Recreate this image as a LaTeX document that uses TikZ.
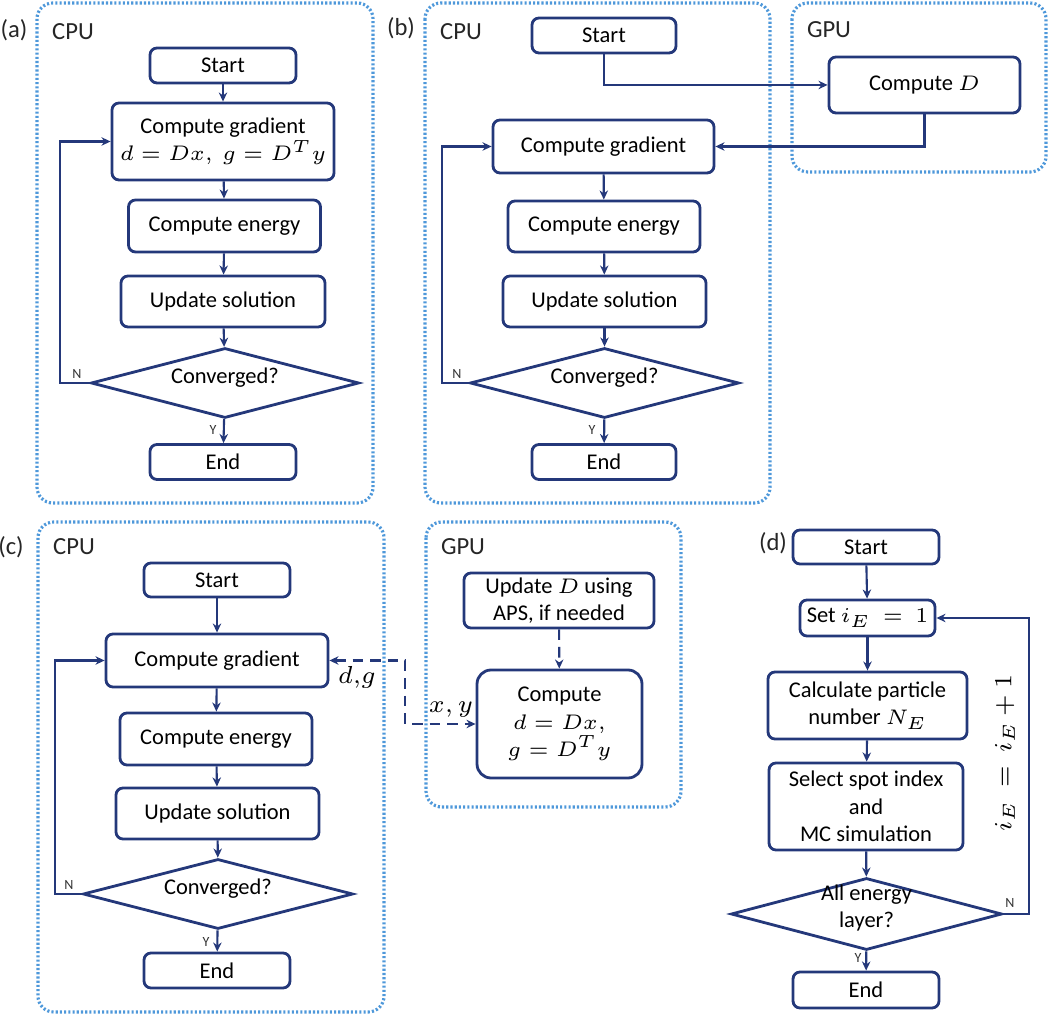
\documentclass[tikz,border=0pt]{standalone}
\usepackage{fontspec}
\setmainfont{Carlito}
\usetikzlibrary{shapes.geometric,arrows.meta}
\definecolor{navy}{RGB}{36,56,122}
\definecolor{frameblue}{RGB}{78,152,218}
\newcommand{\dtxt}[1]{\smash{\begin{tabular}{@{}c@{}}#1\end{tabular}}}
\begin{document}
\begin{tikzpicture}[x=0.1mm,y=-0.1mm]
    \tikzstyle{box}=[rectangle,rounded corners=2pt,draw=navy,line width=0.8pt,align=center,font=\fontsize{6.4}{7.8}\selectfont,inner sep=1pt]
    \tikzstyle{decision}=[diamond,aspect=3.8,draw=navy,line width=0.8pt,inner sep=0pt,font=\fontsize{6.4}{7.8}\selectfont]
    \tikzstyle{frame}=[draw=frameblue,line width=0.9pt,dash pattern=on 0.6pt off 0.6pt,rounded corners=4.5pt]
    \tikzstyle{flow}=[draw=navy,line width=0.6pt,-{Stealth[length=2.6pt,width=2.4pt]}]
    \tikzstyle{dflow}=[draw=navy,line width=0.6pt,dash pattern=on 3pt off 2pt]
    \tikzstyle{panel}=[font=\fontsize{7}{8}\selectfont,text=black!85]
    \tikzstyle{yn}=[font=\fontsize{4}{5}\selectfont,text=black!80,inner sep=0pt]
    \useasboundingbox (0,0) rectangle (1050,1022);

    % (a)
    \draw[frame] (37,3) rectangle (373,503);
    \node[panel] (la) at (14,30) {(a)};
    \node[panel] (ca) at (73,32) {CPU};
    \node[box,minimum width=14.6mm,minimum height=3.5mm] (a1) at (223,65.5) {Start};
    \node[box,minimum width=22.2mm,minimum height=7.7mm] (a2) at (223,141.5) {Compute gradient\\$d=Dx,\ g=D^Ty$};
    \node[box,minimum width=19.2mm,minimum height=5.2mm] (a3) at (224.5,226) {Compute energy};
    \node[box,minimum width=20.4mm,minimum height=5.1mm] (a4) at (223,301.5) {Update solution};
    \node[decision,minimum width=26.8mm,minimum height=7mm] (a5) at (225,383) {\dtxt{Converged?}};
    \node[box,minimum width=14.6mm,minimum height=3.5mm] (a6) at (223,462) {End};
    \path[flow] (a1) -- (a2);
    \path[flow] (a2) -- (a3);
    \path[flow] (a3) -- (a4);
    \path[flow] (a4) -- (a5);
    \path[flow] (a5) -- (a6);
    \path[flow] (a5.west) -- ++(-30,0) |- (a2.west);
    \node[yn] (na) at (77,374) {N};
    \node[yn] (ya) at (213,430) {Y};

    % (b)
    \draw[frame] (425,3) rectangle (770,503);
    \draw[frame] (792,3) rectangle (1046,172);
    \node[panel] (lb) at (401,28) {(b)};
    \node[panel] (cb) at (461,32) {CPU};
    \node[panel] (gb) at (829,30) {GPU};
    \node[box,minimum width=14.4mm,minimum height=3.5mm] (b1) at (604,35.5) {Start};
    \node[box,minimum width=19.1mm,minimum height=5.6mm] (b2) at (924.5,85) {Compute $D$};
    \node[box,minimum width=22.1mm,minimum height=5.3mm] (b3) at (603.5,146.5) {Compute gradient};
    \node[box,minimum width=19.2mm,minimum height=5.1mm] (b4) at (604,226.5) {Compute energy};
    \node[box,minimum width=20.3mm,minimum height=5.1mm] (b5) at (604.5,301.5) {Update solution};
    \node[decision,minimum width=26.9mm,minimum height=7mm] (b6) at (604.5,383) {\dtxt{Converged?}};
    \node[box,minimum width=14.4mm,minimum height=3.5mm] (b7) at (604,462) {End};
    \path[flow] (b1.south) |- (b2.west);
    \path[flow] (b2.south) |- (b3.east);
    \path[flow] (b3) -- (b4);
    \path[flow] (b4) -- (b5);
    \path[flow] (b5) -- (b6);
    \path[flow] (b6) -- (b7);
    \path[flow] (b6.west) -- ++(-27,0) |- (b3.west);
    \node[yn] (nb) at (457,374) {N};
    \node[yn] (yb) at (592,430) {Y};

    % (c)
    \draw[frame] (38,522) rectangle (384,1012);
    \draw[frame] (426,522) rectangle (681,807);
    \node[panel] (lc) at (11,547) {(c)};
    \node[panel] (cc) at (74,547) {CPU};
    \node[panel] (gc) at (463,547) {GPU};
    \node[box,minimum width=14.6mm,minimum height=3.4mm] (c1) at (217,580) {Start};
    \node[box,minimum width=22.2mm,minimum height=5.3mm] (c2) at (217,660.5) {Compute gradient};
    \node[box,minimum width=19.2mm,minimum height=5.2mm] (c3) at (216,739) {Compute energy};
    \node[box,minimum width=20.3mm,minimum height=5.1mm] (c4) at (217.5,813.5) {Update solution};
    \node[decision,minimum width=27mm,minimum height=7mm] (c5) at (218,894) {\dtxt{Converged?}};
    \node[box,minimum width=14.6mm,minimum height=3.5mm] (c6) at (217,970.5) {End};
    \node[box,minimum width=19mm,minimum height=5.5mm] (c7) at (559,600.5) {Update $D$ using\\APS, if needed};
    \node[box,rounded corners=4pt,minimum width=16.5mm,minimum height=10.8mm] (c8) at (559.5,724) {Compute\\$d=Dx,$\\$g=D^Ty$};
    \path[flow] (c1) -- (c2);
    \path[flow] (c2) -- (c3);
    \path[flow] (c3) -- (c4);
    \path[flow] (c4) -- (c5);
    \path[flow] (c5) -- (c6);
    \path[flow] (c5.west) -- ++(-27,0) |- (c2.west);
    \path[dflow,{Stealth[length=2.6pt,width=2.4pt]}-{Stealth[length=2.6pt,width=2.4pt]}] (c2.east) -- ++(76,0) |- (c8.west);
    \path[dflow,-{Stealth[length=2.6pt,width=2.4pt]}] (c7) -- (c8);
    \node[font=\fontsize{7}{8}\selectfont] (dg) at (357,677) {$d,\!g$};
    \node[font=\fontsize{7}{8}\selectfont] (xy) at (451,710) {$x,y$};
    \node[yn] (nc) at (69,885) {N};
    \node[yn] (yc) at (206,942) {Y};

    % (d)
    \node[panel] (ld) at (773,543) {(d)};
    \node[box,minimum width=14.6mm,minimum height=3.4mm] (d1) at (866,547) {Start};
    \node[box,minimum width=13.5mm,minimum height=3.6mm] (d2) at (867.5,618) {Set $i_E\ =\ 1$};
    \node[box,minimum width=19.9mm,minimum height=6.7mm] (d3) at (867.5,705.5) {Calculate particle\\number $N_E$};
    \node[box,minimum width=19.4mm,minimum height=8.7mm] (d4) at (866,806.5) {Select spot index\\and\\MC simulation};
    \node[decision,minimum width=27.1mm,minimum height=7.2mm] (d5) at (866.5,914) {\dtxt{All energy\\layer?}};
    \node[box,minimum width=14.6mm,minimum height=3.6mm] (d6) at (866,990) {End};
    \path[flow] (d1) -- (d2);
    \path[flow] (d2) -- (d3);
    \path[flow] (d3) -- (d4);
    \path[flow] (d4) -- (d5);
    \path[flow] (d5) -- (d6);
    \path[flow] (d5.east) -- ++(26,0) |- (d2.east);
    \node[font=\fontsize{7}{8}\selectfont,rotate=90] (inc) at (1005,753) {$i_E\ =\ i_E+1$};
    \node[yn] (nd) at (1010,903) {N};
    \node[yn] (yd) at (858,958) {Y};
\end{tikzpicture}
\end{document}
